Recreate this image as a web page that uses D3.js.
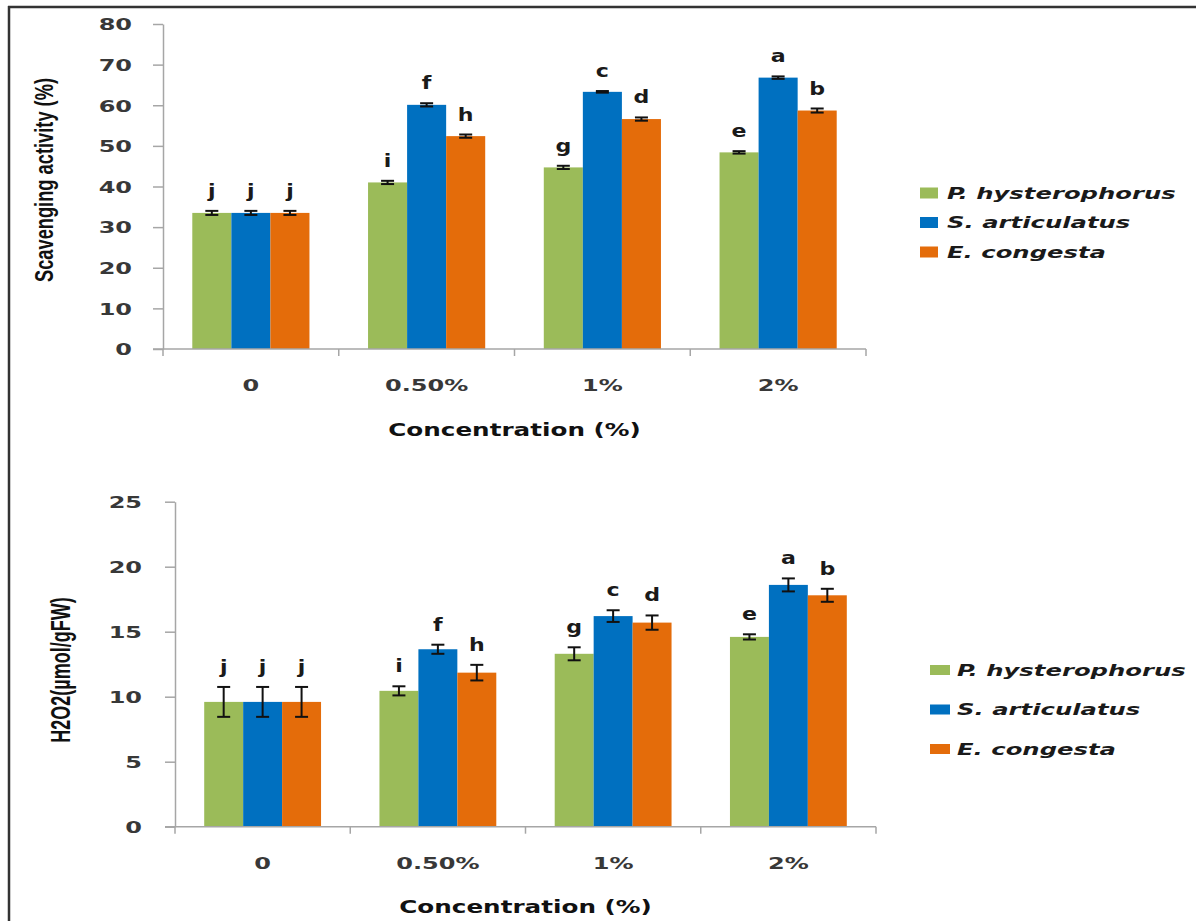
<!DOCTYPE html>
<html>
<head>
<meta charset="utf-8">
<script src="https://cdn.jsdelivr.net/npm/d3@7"></script>
<style>
  body { margin: 0; background: #fff; }
  svg { display: block; }
</style>
</head>
<body>
<svg id="fig" width="1196" height="921"></svg>
<script>
// ---- data ----
const categories = ["0", "0.50%", "1%", "2%"];
const species = ["P. hysterophorus", "S. articulatus", "E. congesta"];
const speciesColors = ["#9BBB59", "#0070C0", "#E46C0A"];

// Scavenging activity (%): one row per species, one value per concentration
const scavengingMeans = [
  [33.5, 41.0, 44.7, 48.4],
  [33.5, 60.1, 63.3, 66.8],
  [33.5, 52.4, 56.6, 58.7]
];
const scavengingErrors = [
  [0.5, 0.4, 0.4, 0.3],
  [0.5, 0.4, 0.2, 0.3],
  [0.5, 0.4, 0.4, 0.5]
];
const scavengingLetters = [
  ["j", "i", "g", "e"],
  ["j", "f", "c", "a"],
  ["j", "h", "d", "b"]
];
const scavengingTicks = [0, 10, 20, 30, 40, 50, 60, 70, 80];

// H2O2 content (µmol/gFW)
const h2o2Means = [
  [9.6, 10.45, 13.3, 14.6],
  [9.6, 13.65, 16.2, 18.6],
  [9.6, 11.85, 15.7, 17.8]
];
const h2o2Errors = [
  [1.15, 0.35, 0.5, 0.2],
  [1.15, 0.35, 0.45, 0.5],
  [1.15, 0.6, 0.55, 0.5]
];
const h2o2Letters = [
  ["j", "i", "g", "e"],
  ["j", "f", "c", "a"],
  ["j", "h", "d", "b"]
];
const h2o2Ticks = [0, 5, 10, 15, 20, 25];

// ---- drawing ----
const svg = d3.select("#fig");
const WIDE = "'DejaVu Sans', Verdana, sans-serif";
const NARROW = "'Liberation Sans', Arial, sans-serif";
const axisColor = "#a6a6a6";

// outer frame (top and left rules)
svg.append("line").attr("x1", 8).attr("x2", 1196).attr("y1", 7).attr("y2", 7)
  .attr("stroke", "#333").attr("stroke-width", 2.5);
svg.append("line").attr("x1", 9).attr("x2", 9).attr("y1", 6).attr("y2", 921)
  .attr("stroke", "#333").attr("stroke-width", 2.5);

function placeText(sel, x, y, sx) {
  return sel.attr("transform", `translate(${x},${y}) scale(${sx},1)`);
}

function drawPanel(opt) {
  const g = svg.append("g");
  const x = d3.scaleBand().domain(categories).range([opt.left, opt.right]);
  const xs = d3.scaleBand().domain(d3.range(species.length))
    .range([0, x.bandwidth()]).paddingOuter(0.75);
  const y = d3.scaleLinear().domain([0, d3.max(opt.ticks)]).range([opt.bottom, opt.top]);

  const cells = species.flatMap((s, i) => categories.map((c, j) => ({
    i, c, v: opt.means[i][j], e: opt.errors[i][j], l: opt.letters[i][j]
  })));
  const cx = d => x(d.c) + xs(d.i) + xs.bandwidth() / 2;

  // bars
  g.append("g").selectAll("rect").data(cells).join("rect")
    .attr("x", d => x(d.c) + xs(d.i))
    .attr("y", d => y(d.v))
    .attr("width", xs.bandwidth())
    .attr("height", d => y(0) - y(d.v))
    .attr("fill", d => speciesColors[d.i]);

  // error bars
  const eb = g.append("g").attr("stroke", "#111").attr("stroke-width", 2)
    .selectAll("g").data(cells).join("g")
    .attr("transform", d => `translate(${cx(d)},0)`);
  eb.append("line").attr("y1", d => y(d.v + d.e)).attr("y2", d => y(d.v - d.e));
  eb.append("line").attr("x1", -6.5).attr("x2", 6.5)
    .attr("y1", d => y(d.v + d.e)).attr("y2", d => y(d.v + d.e));
  eb.append("line").attr("x1", -6.5).attr("x2", 6.5)
    .attr("y1", d => y(d.v - d.e)).attr("y2", d => y(d.v - d.e));

  // significance letters
  g.append("g").selectAll("text").data(cells).join("text")
    .each(function (d) { placeText(d3.select(this), cx(d), y(d.v + d.e) - 14, 1.3); })
    .attr("text-anchor", "middle")
    .style("font-family", WIDE).style("font-weight", "bold").style("font-size", "17px")
    .attr("fill", "#1a1a1a")
    .text(d => d.l);

  // y axis
  const ya = g.append("g").attr("transform", `translate(${opt.left},0)`)
    .call(d3.axisLeft(y).tickValues(opt.ticks).tickSize(10).tickSizeOuter(0));
  ya.select(".domain").attr("stroke", axisColor).attr("stroke-width", 1.5);
  ya.selectAll(".tick line").attr("stroke", axisColor).attr("stroke-width", 1.5);
  ya.selectAll(".tick text")
    .attr("x", null).attr("dy", "0.36em")
    .attr("transform", `translate(${-opt.tickGap},0) scale(1.5,1)`)
    .style("font-family", WIDE).style("font-weight", "bold").style("font-size", "16px")
    .attr("fill", "#383838");

  // x axis: baseline, category separators and labels
  const xa = g.append("g").attr("stroke", axisColor).attr("stroke-width", 1.5);
  xa.append("line").attr("x1", opt.left - 10).attr("x2", opt.right)
    .attr("y1", y(0)).attr("y2", y(0));
  const edges = categories.map(c => x(c)).concat([opt.right]);
  xa.selectAll("line.sep").data(edges).join("line").attr("class", "sep")
    .attr("x1", d => d).attr("x2", d => d).attr("y1", y(0)).attr("y2", y(0) + 7);

  g.append("g").selectAll("text").data(categories).join("text")
    .each(function (c) { placeText(d3.select(this), x(c) + x.bandwidth() / 2, opt.labelY, 1.5); })
    .attr("text-anchor", "middle")
    .style("font-family", WIDE).style("font-weight", "bold").style("font-size", "16px")
    .attr("fill", "#383838")
    .text(c => c);

  placeText(g.append("text"), (opt.left + opt.right) / 2, opt.titleY, 1.37)
    .attr("text-anchor", "middle")
    .style("font-family", WIDE).style("font-weight", "bold").style("font-size", "18px")
    .attr("fill", "#111")
    .text("Concentration (%)");

  // y title, condensed along its length and set tall
  g.append("text")
    .attr("transform", `translate(${opt.yTitleX},${opt.yTitleY}) rotate(-90) scale(${opt.yTitleSqueeze},1.25)`)
    .attr("text-anchor", "middle")
    .style("font-family", NARROW).style("font-weight", "bold").style("font-size", opt.yTitleSize + "px")
    .attr("fill", "#111")
    .text(opt.yTitle);

  // legend
  const lg = g.append("g").selectAll("g").data(species).join("g")
    .attr("transform", (s, i) => `translate(${opt.legend.x},${opt.legend.y + i * opt.legend.dy})`);
  lg.append("rect").attr("x", 0).attr("y", -opt.legend.kh / 2)
    .attr("width", opt.legend.kw).attr("height", opt.legend.kh)
    .attr("fill", (s, i) => speciesColors[i]);
  lg.append("text")
    .attr("transform", `translate(${opt.legend.tx},5.5) scale(1.62,1)`)
    .style("font-family", WIDE).style("font-weight", "bold").style("font-style", "italic")
    .style("font-size", "15px").attr("fill", "#1a1a1a")
    .text(s => s);
}

drawPanel({
  means: scavengingMeans, errors: scavengingErrors, letters: scavengingLetters,
  ticks: scavengingTicks,
  left: 163, right: 866, top: 24, bottom: 349,
  tickGap: 31, labelY: 391, titleY: 436,
  yTitle: "Scavenging activity (%)", yTitleX: 53, yTitleY: 180, yTitleSize: 21, yTitleSqueeze: 0.87,
  legend: { x: 920, y: 193, dy: 29.5, kw: 18, kh: 11, tx: 27 }
});

drawPanel({
  means: h2o2Means, errors: h2o2Errors, letters: h2o2Letters,
  ticks: h2o2Ticks,
  left: 175, right: 876, top: 501.7, bottom: 826.7,
  tickGap: 33, labelY: 869, titleY: 913,
  yTitle: "H2O2(µmol/gFW)", yTitleX: 70, yTitleY: 670, yTitleSize: 22, yTitleSqueeze: 0.82,
  legend: { x: 930, y: 670, dy: 39.5, kw: 20, kh: 10, tx: 27 }
});
</script>
</body>
</html>
